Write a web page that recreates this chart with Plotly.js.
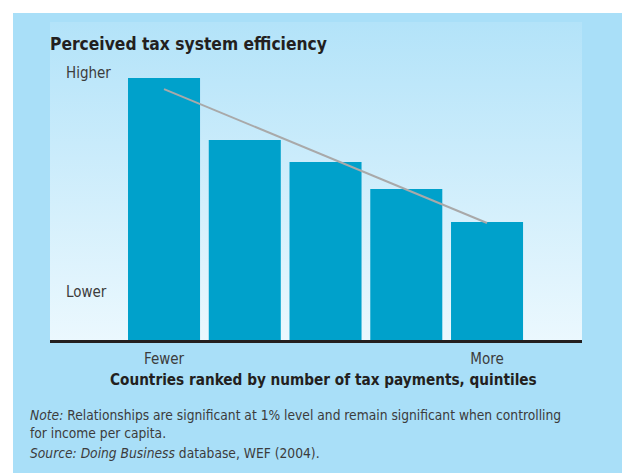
<!DOCTYPE html>
<html><head><meta charset="utf-8">
<script src="https://cdn.plot.ly/plotly-3.0.1.min.js"></script>
<style>html,body{margin:0;padding:0;background:#fff}#chart{width:622px;height:473px}</style>
</head><body><div id="chart"></div>
<script>
// Data (arbitrary 0-100 efficiency scale)
const quintiles = [0, 1, 2, 3, 4];
const efficiency = [82.4, 62.9, 56.0, 47.5, 37.1];
const trendX = [0, 4];
const trendY = [78.9, 36.8];
const xTickVals = [0, 4];
const xTickLabels = ['Fewer', 'More'];
const yTickVals = [84.0, 15.1];
const yTickLabels = ['Higher', 'Lower'];

const FONT = '"DejaVu Sans Condensed", "Liberation Sans Narrow", sans-serif';

const W = 622, H = 473;
const L = 50, R = 582, T = 22, B = 340;
const pw = R - L, ph = B - T;
const px2x = p => (p - L) / pw;
const py2y = p => (B - p) / ph;

const gradSvg = '<svg xmlns="http://www.w3.org/2000/svg" width="10" height="100" preserveAspectRatio="none">' +
  '<defs><linearGradient id="g" x1="0" y1="0" x2="0" y2="1">' +
  '<stop offset="0" stop-color="#B3E3F9"/><stop offset="1" stop-color="#EBF8FE"/></linearGradient></defs>' +
  '<rect width="10" height="100" fill="url(#g)"/></svg>';
const gradUri = 'data:image/svg+xml;charset=utf-8,' + encodeURIComponent(gradSvg);

const traces = [
  {
    type: 'bar', x: quintiles, y: efficiency, width: 0.892,
    marker: {color: '#00A1CB', line: {width: 0}},
    hoverinfo: 'skip', showlegend: false
  },
  {
    type: 'scatter', mode: 'lines', x: trendX, y: trendY,
    line: {color: '#A9A9A9', width: 2},
    hoverinfo: 'skip', showlegend: false
  }
];

const layout = {
  width: W, height: H,
  margin: {l: L, r: W - R, t: T, b: H - B, pad: 0},
  paper_bgcolor: '#A9DFF8',
  plot_bgcolor: 'rgba(0,0,0,0)',
  font: {family: FONT, color: '#3C3C3C', size: 14},
  title: {
    text: '<b>Perceived tax system efficiency</b>',
    font: {family: FONT, size: 17.3, color: '#231F20'},
    xref: 'container', yref: 'container',
    x: 50 / W, xanchor: 'left', y: 1 - 44 / H, yanchor: 'middle'
  },
  xaxis: {
    range: [-1.412, 5.176], fixedrange: true,
    tickvals: xTickVals, ticktext: xTickLabels,
    ticks: '', showgrid: false, zeroline: false,
    showline: true, linecolor: '#231F20', linewidth: 3,
    tickfont: {family: FONT, size: 15, color: '#3C3C3C'},
    ticklabelstandoff: 3
  },
  yaxis: {
    range: [0, 100], fixedrange: true,
    tickvals: yTickVals, ticktext: yTickLabels,
    ticks: '', showgrid: false, zeroline: false, showline: false,
    ticklabelposition: 'inside', ticklabelstandoff: 13,
    tickfont: {family: FONT, size: 15, color: '#3C3C3C'}
  },
  images: [{
    source: gradUri, xref: 'paper', yref: 'paper',
    x: 0, y: 1, sizex: 1, sizey: 1, xanchor: 'left', yanchor: 'top',
    sizing: 'stretch', layer: 'below'
  }],
  shapes: [
    {type: 'rect', xref: 'paper', yref: 'paper', layer: 'below',
     x0: px2x(-5), x1: px2x(W + 5), y0: py2y(13), y1: py2y(-5),
     fillcolor: '#FFFFFF', line: {width: 0}},
    {type: 'rect', xref: 'paper', yref: 'paper', layer: 'below',
     x0: px2x(-5), x1: px2x(13), y0: py2y(H + 5), y1: py2y(-5),
     fillcolor: '#FFFFFF', line: {width: 0}}
  ],
  annotations: [
    {text: '<b>Countries ranked by number of tax payments, quintiles</b>',
     xref: 'paper', yref: 'paper', x: px2x(323), y: py2y(380),
     xanchor: 'center', yanchor: 'middle', showarrow: false,
     font: {family: FONT, size: 15.2, color: '#231F20'}},
    {text: '<i>Note:</i> Relationships are significant at 1% level and remain significant when controlling<br>for income per capita.',
     xref: 'paper', yref: 'paper', x: px2x(28), y: py2y(405),
     xanchor: 'left', yanchor: 'top', align: 'left', showarrow: false,
     font: {family: FONT, size: 13.7, color: '#3C3C3C'}},
    {text: '<i>Source: Doing Business</i> database, WEF (2004).',
     xref: 'paper', yref: 'paper', x: px2x(28), y: py2y(453),
     xanchor: 'left', yanchor: 'middle', align: 'left', showarrow: false,
     font: {family: FONT, size: 13.7, color: '#3C3C3C'}}
  ]
};

Plotly.newPlot('chart', traces, layout, {displayModeBar: false, staticPlot: true});
</script>
</body></html>
